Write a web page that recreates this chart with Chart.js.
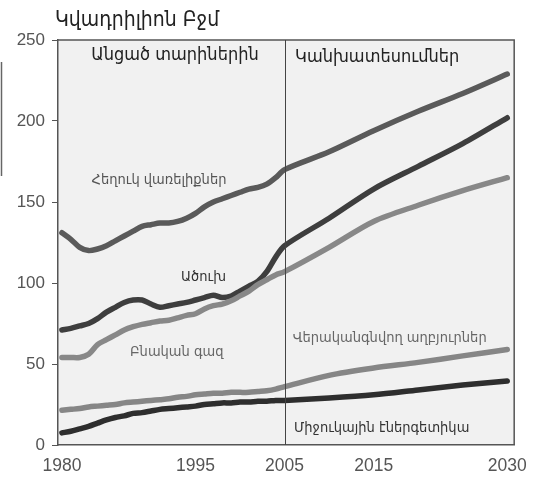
<!DOCTYPE html>
<html>
<head>
<meta charset="utf-8">
<script src="https://cdn.jsdelivr.net/npm/chart.js@4"></script>
<style>
  html, body { margin: 0; padding: 0; background: #ffffff; }
  #wrap { width: 538px; height: 484px; position: relative; }
</style>
</head>
<body>
<div id="wrap"><canvas id="c" width="538" height="484"></canvas></div>
<script>
// ---- data ----
const years = [1980,1981,1982,1983,1984,1985,1986,1987,1988,1989,1990,1991,1992,1993,1994,1995,1996,1997,1998,1999,2000,2001,2002,2003,2004,2005,2010,2015,2020,2025,2030];
const liquids     = [131,127,122,120,121,123,126,129,132,135,136,137,137,138,140,143,147,150,152,154,156,158,159,161,165,170,181,194,206,217,229];
const coal        = [71,72,73.5,75,78,82,85,88,89.5,89.5,87,85,86,87,88,89.5,91,92.5,91,92,95,98,101,107,116,123,140,158,172,186,202];
const naturalGas  = [54,54,54,56,62,65,68,71,73,74.5,75.5,76.5,77,78.5,80,81,84,86,87,89,92,95,99,102,105,107,122,138,148,157,165];
const renewables  = [21.5,22,22.5,23.5,24,24.5,25,26,26.5,27,27.5,28,28.5,29.5,30,31,31.5,32,32,32.5,32.5,32.5,33,33.5,34.5,36,43,47.5,51,55,59];
const nuclear     = [7.5,8.5,10,11.5,13.5,15.5,17,18,19.5,20,21,22,22.5,23,23.5,24,25,25.5,26,26,26.5,26.5,27,27,27.5,27.5,29,31,34,37,39.5];
const xTicks = [1980, 1995, 2005, 2015, 2030];
const yTicks = [0, 50, 100, 150, 200, 250];
const dividerYear = 2005;

const titleText = "Կվադրիլիոն Բջմ";
const seriesNames = ["Հեղուկ վառելիքներ", "Ածուխ", "Բնական գազ", "Վերականգնվող աղբյուրներ", "Միջուկային էներգետիկա"];

// annotation placements in data units (year, value)
const notes = [
  { text: "Անցած տարիներին", year: 1992.7, value: 240.5, size: 18, color: "#222", weight: "normal" },
  { text: "Կանխատեսումներ", year: 2015.4, value: 239, size: 18, color: "#222", weight: "normal" },
  { text: seriesNames[0], year: 1990.9, value: 163.6, size: 14.5, color: "#555", weight: "normal" },
  { text: seriesNames[1], year: 1995.9, value: 103.7, size: 14.5, color: "#333", weight: "normal" },
  { text: seriesNames[2], year: 1992.9, value: 57.4, size: 14.5, color: "#666", weight: "normal" },
  { text: seriesNames[3], year: 2016.8, value: 66, size: 14.5, color: "#666", weight: "normal" },
  { text: seriesNames[4], year: 2015.9, value: 10.5, size: 14.5, color: "#333", weight: "normal" }
];

const pts = arr => years.map((y, i) => ({ x: y, y: arr[i] }));
const armFont = "'DejaVu Sans Condensed', 'DejaVu Sans', sans-serif";
const numFont = "'Liberation Sans', Arial, sans-serif";

const decor = {
  id: 'decor',
  beforeDraw(chart) {
    const { ctx, chartArea: a } = chart;
    ctx.save();
    ctx.fillStyle = '#f1f1f1';
    ctx.fillRect(a.left, a.top, a.right - a.left, a.bottom - a.top);
    ctx.restore();
  },
  afterDatasetsDraw(chart) {
    const { ctx, chartArea: a, scales } = chart;
    ctx.save();
    ctx.strokeStyle = '#555';
    ctx.lineWidth = 1.5;
    ctx.beginPath();
    ctx.moveTo(a.left, a.top);
    ctx.lineTo(a.right, a.top);
    ctx.lineTo(a.right, a.bottom);
    ctx.stroke();
    const dx = Math.round(scales.x.getPixelForValue(dividerYear)) + 0.5;
    ctx.lineWidth = 1;
    ctx.strokeStyle = '#444';
    ctx.beginPath();
    ctx.moveTo(dx, a.top);
    ctx.lineTo(dx, a.bottom);
    ctx.stroke();
    ctx.strokeStyle = '#666';
    ctx.lineWidth = 1.5;
    ctx.beginPath();
    ctx.moveTo(1.5, 62);
    ctx.lineTo(1.5, 176);
    ctx.stroke();
    ctx.fillStyle = '#222';
    ctx.font = "21px " + armFont;
    ctx.textAlign = 'left';
    ctx.textBaseline = 'middle';
    ctx.fillText(titleText, 55, 21);
    ctx.textAlign = 'center';
    notes.forEach(n => {
      ctx.font = n.weight + " " + n.size + "px " + armFont;
      ctx.fillStyle = n.color;
      ctx.fillText(n.text, scales.x.getPixelForValue(n.year), scales.y.getPixelForValue(n.value));
    });
    ctx.restore();
  }
};

const mk = (label, data, color) => ({
  label, data: pts(data), borderColor: color, backgroundColor: color,
  borderWidth: 5.5, pointRadius: 0, tension: 0.3, fill: false,
  borderCapStyle: 'round', borderJoinStyle: 'round'
});

new Chart(document.getElementById('c'), {
  type: 'line',
  data: {
    datasets: [
      mk(seriesNames[0], liquids, '#5a5a5a'),
      mk(seriesNames[2], naturalGas, '#888888'),
      mk(seriesNames[1], coal, '#3e3e3e'),
      mk(seriesNames[3], renewables, '#868686'),
      mk(seriesNames[4], nuclear, '#2e2e2e')
    ]
  },
  options: {
    responsive: false,
    animation: false,
    layout: { padding: { left: 0, top: 40, right: 19, bottom: 0 } },
    plugins: { legend: { display: false }, tooltip: { enabled: false } },
    scales: {
      x: {
        type: 'linear', min: 1979.56, max: 2030.78,
        afterBuildTicks: s => { s.ticks = xTicks.map(v => ({ value: v })); },
        afterFit: s => { s.height = 39; },
        grid: { display: false, drawTicks: false },
        border: { display: true, color: '#555', width: 1.5 },
        ticks: { padding: 11, color: '#555', font: { family: numFont, size: 17.5 }, maxRotation: 0, autoSkip: false, callback: v => String(v) }
      },
      y: {
        min: 0, max: 250,
        afterBuildTicks: s => { s.ticks = yTicks.map(v => ({ value: v })); },
        afterFit: s => { s.width = 58; },
        grid: { drawOnChartArea: false, drawTicks: true, tickLength: 6, color: '#555', lineWidth: 1 },
        border: { display: true, color: '#555', width: 1.5 },
        ticks: { padding: 7, color: '#555', font: { family: numFont, size: 17 } }
      }
    }
  },
  plugins: [decor]
});
</script>
</body>
</html>
